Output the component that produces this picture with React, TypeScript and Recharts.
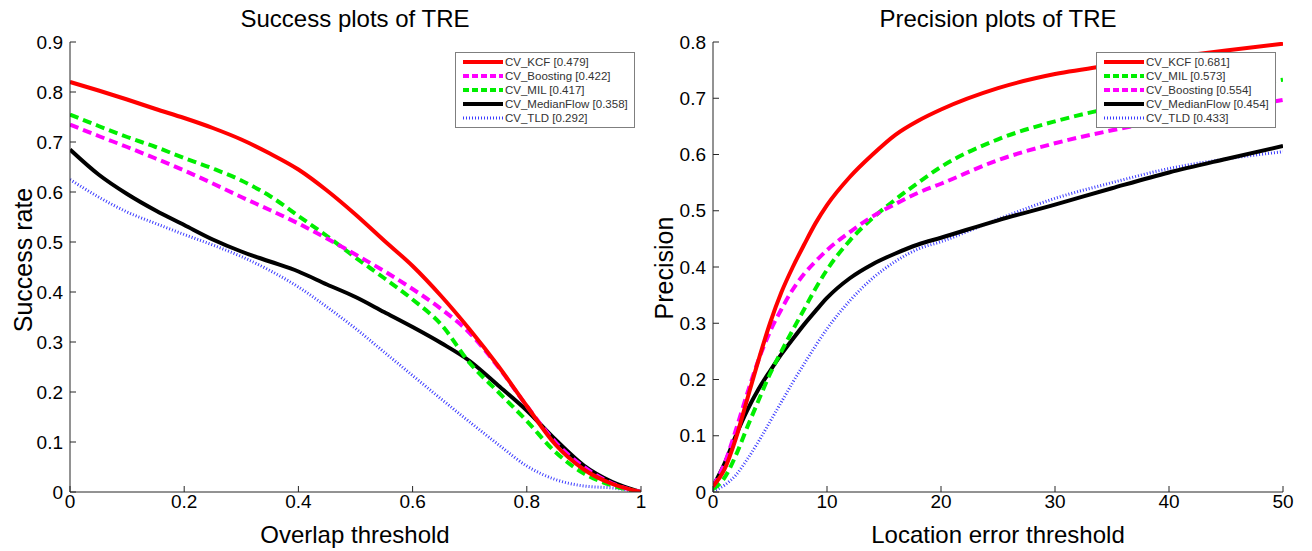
import React from "react";
import { LineChart, Line, XAxis, YAxis } from "recharts";

// ---- Success plot (overlap threshold) ----
const overlapThresholds = [0, 0.05, 0.1, 0.15, 0.2, 0.25, 0.3, 0.35, 0.4, 0.45, 0.5, 0.55, 0.6, 0.65, 0.7, 0.75, 0.8, 0.85, 0.9, 0.95, 1];
const successKCF = [0.82, 0.803, 0.785, 0.766, 0.748, 0.728, 0.705, 0.677, 0.645, 0.603, 0.555, 0.503, 0.452, 0.392, 0.325, 0.252, 0.172, 0.095, 0.045, 0.016, 0];
const successBoosting = [0.735, 0.712, 0.69, 0.667, 0.643, 0.617, 0.59, 0.564, 0.537, 0.507, 0.475, 0.442, 0.406, 0.366, 0.318, 0.25, 0.172, 0.1, 0.05, 0.017, 0];
const successMIL = [0.755, 0.732, 0.71, 0.69, 0.668, 0.647, 0.623, 0.592, 0.552, 0.512, 0.469, 0.428, 0.385, 0.335, 0.258, 0.2, 0.142, 0.08, 0.037, 0.013, 0];
const successMedianFlow = [0.685, 0.635, 0.596, 0.563, 0.534, 0.505, 0.481, 0.461, 0.441, 0.415, 0.39, 0.36, 0.33, 0.298, 0.262, 0.213, 0.163, 0.105, 0.053, 0.02, 0];
const successTLD = [0.625, 0.59, 0.56, 0.537, 0.515, 0.494, 0.471, 0.443, 0.41, 0.37, 0.327, 0.28, 0.233, 0.186, 0.14, 0.095, 0.052, 0.025, 0.012, 0.008, 0];

// ---- Precision plot (location error threshold) ----
const errorThresholds = [0, 1, 2, 3, 4, 5, 6, 7, 8, 9, 10, 12, 14, 16, 18, 20, 25, 30, 35, 40, 45, 50];
const precisionKCF = [0.01, 0.04, 0.095, 0.165, 0.235, 0.3, 0.355, 0.4, 0.44, 0.478, 0.51, 0.56, 0.6, 0.635, 0.66, 0.68, 0.718, 0.743, 0.759, 0.772, 0.785, 0.797];
const precisionMIL = [0.005, 0.025, 0.065, 0.115, 0.163, 0.21, 0.25, 0.288, 0.325, 0.362, 0.395, 0.447, 0.487, 0.52, 0.55, 0.578, 0.627, 0.659, 0.683, 0.702, 0.718, 0.733];
const precisionBoosting = [0.01, 0.05, 0.11, 0.175, 0.235, 0.285, 0.325, 0.36, 0.388, 0.41, 0.43, 0.462, 0.49, 0.512, 0.532, 0.548, 0.59, 0.62, 0.643, 0.662, 0.68, 0.697];
const precisionMedianFlow = [0.01, 0.05, 0.1, 0.145, 0.183, 0.215, 0.245, 0.272, 0.298, 0.322, 0.345, 0.38, 0.405, 0.424, 0.44, 0.452, 0.483, 0.511, 0.54, 0.568, 0.592, 0.615];
const precisionTLD = [0.002, 0.012, 0.03, 0.058, 0.09, 0.125, 0.16, 0.195, 0.228, 0.26, 0.29, 0.34, 0.38, 0.41, 0.432, 0.445, 0.485, 0.522, 0.55, 0.575, 0.592, 0.605];

const successXTicks = [0, 0.2, 0.4, 0.6, 0.8, 1];
const successYTicks = [0, 0.1, 0.2, 0.3, 0.4, 0.5, 0.6, 0.7, 0.8, 0.9];
const precisionXTicks = [0, 10, 20, 30, 40, 50];
const precisionYTicks = [0, 0.1, 0.2, 0.3, 0.4, 0.5, 0.6, 0.7, 0.8];

type SeriesStyle = { name: string; color: string; width: number; dash?: string; legendDash?: string };

const styles: Record<string, SeriesStyle> = {
  kcf: { name: "CV_KCF", color: "#ff0000", width: 4 },
  boosting: { name: "CV_Boosting", color: "#ff00ff", width: 4, dash: "9 5", legendDash: "6 3" },
  mil: { name: "CV_MIL", color: "#00ee00", width: 4, dash: "9 5", legendDash: "6 3" },
  medianflow: { name: "CV_MedianFlow", color: "#000000", width: 4 },
  tld: { name: "CV_TLD", color: "#3c3cff", width: 3, dash: "1 2", legendDash: "1 2" },
};

const successScores: Record<string, string> = { kcf: "0.479", boosting: "0.422", mil: "0.417", medianflow: "0.358", tld: "0.292" };
const precisionScores: Record<string, string> = { kcf: "0.681", mil: "0.573", boosting: "0.554", medianflow: "0.454", tld: "0.433" };

const successOrder = ["kcf", "boosting", "mil", "medianflow", "tld"];
const precisionOrder = ["kcf", "mil", "boosting", "medianflow", "tld"];

const successData = overlapThresholds.map((x, i) => ({
  x,
  kcf: successKCF[i],
  boosting: successBoosting[i],
  mil: successMIL[i],
  medianflow: successMedianFlow[i],
  tld: successTLD[i],
}));

const precisionData = errorThresholds.map((x, i) => ({
  x,
  kcf: precisionKCF[i],
  mil: precisionMIL[i],
  boosting: precisionBoosting[i],
  medianflow: precisionMedianFlow[i],
  tld: precisionTLD[i],
}));

const font = "'Liberation Sans', Arial, sans-serif";
const axisColor = "#262626";

function LegendBox({ order, scores, left, top }: { order: string[]; scores: Record<string, string>; left: number; top: number }) {
  return (
    <div
      style={{
        position: "absolute",
        left,
        top,
        width: 180,
        height: 76,
        border: "1px solid #7f7f7f",
        background: "#fff",
        boxSizing: "border-box",
        paddingTop: 2,
      }}
    >
      {order.map((k) => {
        const s = styles[k];
        return (
          <div key={k} style={{ display: "flex", alignItems: "center", height: 14 }}>
            <svg width={49} height={14} style={{ flexShrink: 0 }}>
              <line x1={7} x2={47} y1={7} y2={7} stroke={s.color} strokeWidth={s.width} strokeDasharray={s.legendDash} />
            </svg>
            <span style={{ fontFamily: font, fontSize: 11.5, color: "#333", whiteSpace: "nowrap" }}>
              {s.name} [{scores[k]}]
            </span>
          </div>
        );
      })}
    </div>
  );
}

function Plot({
  data,
  xDomain,
  yDomain,
  xTicks,
  yTicks,
  margin,
  yAxisWidth,
}: {
  data: any[];
  xDomain: [number, number];
  yDomain: [number, number];
  xTicks: number[];
  yTicks: number[];
  margin: { top: number; right: number; bottom: number; left: number };
  yAxisWidth: number;
}) {
  const tickStyle = { fontFamily: font, fontSize: 19, fill: "#000" };
  const drawOrder = ["tld", "medianflow", "mil", "boosting", "kcf"];
  return (
    <LineChart width={656} height={551} data={data} margin={margin}>
      <XAxis
        xAxisId="b"
        dataKey="x"
        type="number"
        domain={xDomain}
        ticks={xTicks}
        interval={0}
        height={30}
        tickSize={-6}
        tickMargin={9}
        tick={tickStyle}
        axisLine={{ stroke: axisColor }}
        tickLine={{ stroke: axisColor }}
        allowDataOverflow
      />
      <XAxis
        xAxisId="t"
        orientation="top"
        dataKey="x"
        type="number"
        domain={xDomain}
        ticks={xTicks}
        interval={0}
        height={0}
        tickSize={-6}
        tick={false}
        axisLine={{ stroke: axisColor }}
        tickLine={{ stroke: axisColor }}
      />
      <YAxis
        yAxisId="l"
        type="number"
        domain={yDomain}
        ticks={yTicks}
        interval={0}
        width={yAxisWidth}
        tickSize={-6}
        tickMargin={13}
        tick={tickStyle}
        axisLine={{ stroke: axisColor }}
        tickLine={{ stroke: axisColor }}
        allowDataOverflow
      />
      <YAxis
        yAxisId="r"
        orientation="right"
        type="number"
        domain={yDomain}
        ticks={yTicks}
        interval={0}
        width={0}
        tickSize={-6}
        tick={false}
        axisLine={{ stroke: axisColor }}
        tickLine={{ stroke: axisColor }}
      />
      {drawOrder.map((k) => {
        const s = styles[k];
        return (
          <Line
            key={k}
            xAxisId="b"
            yAxisId="l"
            type="monotone"
            dataKey={k}
            name={s.name}
            stroke={s.color}
            strokeWidth={s.width}
            strokeDasharray={s.dash}
            dot={false}
            activeDot={false}
            isAnimationActive={false}
          />
        );
      })}
    </LineChart>
  );
}

const textBase: React.CSSProperties = {
  position: "absolute",
  fontFamily: font,
  color: "#000",
  whiteSpace: "nowrap",
  transform: "translate(-50%, -50%)",
  lineHeight: 1,
};

export default function App() {
  return (
    <div style={{ position: "absolute", left: 0, top: 0, width: 1312, height: 551, background: "#fff", overflow: "hidden" }}>
      <div style={{ position: "absolute", left: 0, top: 0 }}>
        <Plot
          data={successData}
          xDomain={[0, 1]}
          yDomain={[0, 0.9]}
          xTicks={successXTicks}
          yTicks={successYTicks}
          margin={{ top: 42, right: 15, bottom: 29, left: 10 }}
          yAxisWidth={60}
        />
      </div>
      <div style={{ position: "absolute", left: 656, top: 0 }}>
        <Plot
          data={precisionData}
          xDomain={[0, 50]}
          yDomain={[0, 0.8]}
          xTicks={precisionXTicks}
          yTicks={precisionYTicks}
          margin={{ top: 42, right: 29, bottom: 29, left: 7 }}
          yAxisWidth={50}
        />
      </div>
      <LegendBox order={successOrder} scores={successScores} left={455} top={52} />
      <LegendBox order={precisionOrder} scores={precisionScores} left={1096} top={52} />
      <div style={{ ...textBase, left: 355, top: 19, fontSize: 24 }}>Success plots of TRE</div>
      <div style={{ ...textBase, left: 998, top: 19, fontSize: 24 }}>Precision plots of TRE</div>
      <div style={{ ...textBase, left: 355, top: 535, fontSize: 24 }}>Overlap threshold</div>
      <div style={{ ...textBase, left: 998, top: 535, fontSize: 24 }}>Location error threshold</div>
      <div style={{ ...textBase, left: 23, top: 260, fontSize: 25, transform: "translate(-50%, -50%) rotate(-90deg)" }}>
        Success rate
      </div>
      <div style={{ ...textBase, left: 664, top: 268, fontSize: 25, transform: "translate(-50%, -50%) rotate(-90deg)" }}>
        Precision
      </div>
    </div>
  );
}
